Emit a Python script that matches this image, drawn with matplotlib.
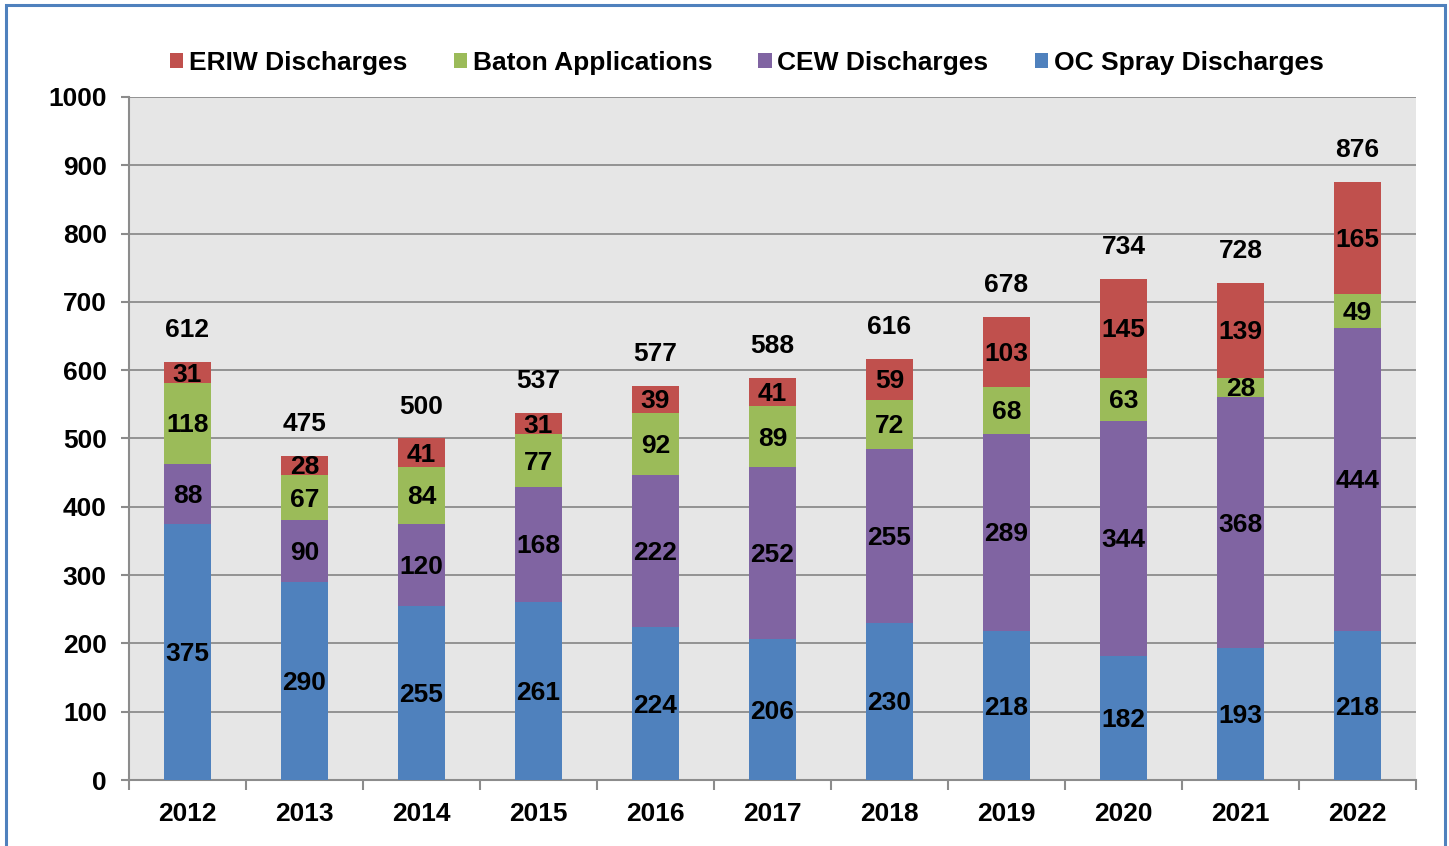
import matplotlib
matplotlib.use("Agg")
import matplotlib.pyplot as plt
from matplotlib.patches import Rectangle
import numpy as np

plt.rcParams['font.family'] = ['Liberation Sans', 'DejaVu Sans']
plt.rcParams['font.weight'] = 'bold'

years = ['2012', '2013', '2014', '2015', '2016', '2017', '2018', '2019', '2020', '2021', '2022']
oc_spray = [375, 290, 255, 261, 224, 206, 230, 218, 182, 193, 218]
cew = [88, 90, 120, 168, 222, 252, 255, 289, 344, 368, 444]
baton = [118, 67, 84, 77, 92, 89, 72, 68, 63, 28, 49]
eriw = [31, 28, 41, 31, 39, 41, 59, 103, 145, 139, 165]
yticks = [0, 100, 200, 300, 400, 500, 600, 700, 800, 900, 1000]

series = [
    ('OC Spray Discharges', oc_spray, '#4F81BD'),
    ('CEW Discharges', cew, '#8064A2'),
    ('Baton Applications', baton, '#9BBB59'),
    ('ERIW Discharges', eriw, '#C0504D'),
]

W, H = 1449, 846
fig = plt.figure(figsize=(W / 100, H / 100), dpi=100)
ax = fig.add_axes([129 / W, 1 - 780 / H, (1416 - 129) / W, (780 - 97) / H])
ax.set_facecolor('#E6E6E6')

x = np.arange(len(years))
bottom = np.zeros(len(years))
handles = {}
fs = 19
for name, vals, col in series:
    vals = np.array(vals, dtype=float)
    b = ax.bar(x, vals, 0.395, bottom=bottom, color=col, zorder=3, label=name)
    handles[name] = b
    for xi, v, bt in zip(x, vals, bottom):
        ax.annotate(f'{int(v)}', (xi, bt + v / 2), xytext=(0, -2), textcoords='offset pixels',
                    ha='center', va='center', fontsize=fs, fontweight='bold',
                    color='black', zorder=5)
    bottom = bottom + vals

for xi, tot in zip(x, bottom):
    ax.annotate(f'{int(tot)}', (xi, tot), xytext=(0, 32), textcoords='offset pixels',
                ha='center', va='center', fontsize=fs, fontweight='bold', color='black')

ax.set_xlim(-0.5, len(years) - 0.5)
ax.set_ylim(0, 1000)
ax.set_yticks(yticks)
ax.set_yticklabels([str(t) for t in yticks], fontsize=fs, fontweight='bold')
ax.yaxis.grid(True, color='#8C8C8C', linewidth=1.3, zorder=1)
ax.set_axisbelow(True)

ax.set_xticks(x)
ax.set_xticklabels(years, fontsize=fs, fontweight='bold')
ax.tick_params(axis='x', which='major', length=0, pad=16)
ax.set_xticks(np.arange(-0.5, len(years)), minor=True)
ax.tick_params(axis='x', which='minor', length=7, width=1.5, color='#8C8C8C')
ax.tick_params(axis='y', length=6, width=1.5, color='#8C8C8C', pad=10)

for s in ['top', 'right']:
    ax.spines[s].set_visible(False)
for s in ['left', 'bottom']:
    ax.spines[s].set_color('#8C8C8C')
    ax.spines[s].set_linewidth(1.5)

order = ['ERIW Discharges', 'Baton Applications', 'CEW Discharges', 'OC Spray Discharges']
leg = fig.legend([handles[n] for n in order], order, loc='center left',
                 bbox_to_anchor=(170 / W, 1 - 63 / H), ncol=4, frameon=False,
                 prop={'size': fs, 'weight': 'bold'}, handlelength=0.5, handleheight=0.5,
                 handletextpad=0.22, columnspacing=1.75, borderaxespad=0, borderpad=0)

# outer blue frame (bottom edge cropped)
frame = Rectangle((6 / W, -0.05), (1445 - 6) / W, 1 - 5 / H + 0.05, transform=fig.transFigure,
                  fill=False, edgecolor='#4F81BD', linewidth=2.2)
fig.patches.append(frame)

fig.savefig('out.png', dpi=100)
